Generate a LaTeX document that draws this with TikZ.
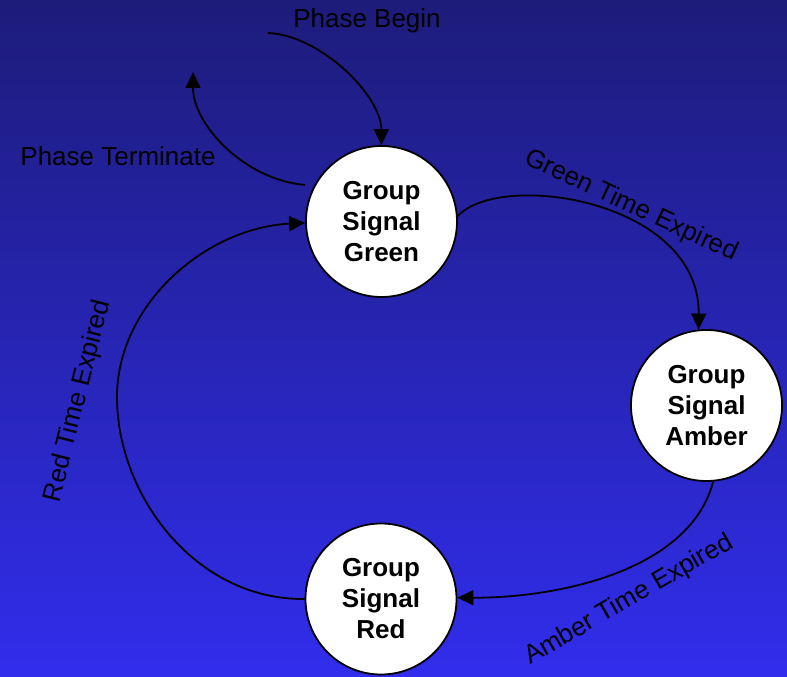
\documentclass[tikz,border=0pt]{standalone}
\usepackage{fontspec}
\setmainfont{Liberation Sans}
\usetikzlibrary{arrows.meta}
\definecolor{bgtop}{RGB}{29,28,122}
\definecolor{bgbot}{RGB}{49,45,236}
\begin{document}
\begin{tikzpicture}[x=1bp,y=-1bp,
  state/.style={circle,draw=black,fill=white,line width=1.8bp,minimum size=151bp,inner sep=0pt,
    align=center,font=\fontsize{26bp}{31bp}\selectfont\bfseries},
  lbl/.style={font=\fontsize{26bp}{31bp}\selectfont,text=black,inner sep=0pt},
  trans/.style={line width=1.8bp,-{Triangle[length=16bp,width=15bp]}}]
  % background
  \useasboundingbox (0,0) rectangle (787,677);
  \shade[top color=bgtop,bottom color=bgbot] (0,0) rectangle (787,677);

  % states
  \node[state] (green) at (381.5,221.5) {Group\\Signal\\Green};
  \node[state] (amber) at (706.5,405.5) {Group\\Signal\\Amber};
  \node[state] (red)   at (381,599)     {Group\\Signal\\Red};

  % free ends
  \coordinate (begin) at (268,33);
  \coordinate (term)  at (193,72);

  % transitions
  \draw[trans] (begin) .. controls (320,35) and (381,95) .. (green.north);
  \draw[trans,shorten <=9bp] (green.152) .. controls (245,180) and (193,125) .. (term);
  \draw[trans] (green.4) .. controls (500,170) and (700,200) .. (amber.96);
  \draw[trans] (amber.-85) .. controls (690,570) and (560,598) .. (red.1);
  \draw[trans] (red.west) .. controls (195,600) and (117,495) .. (117,397)
                          .. controls (117,305) and (205,228) .. (green.181);

  % labels
  \node[lbl] (lbegin) at (367,21) {Phase Begin};
  \node[lbl] (lterm) at (118,156) {Phase Terminate};
  \node[lbl,rotate=-25] (lgreen) at (631,206) {Green Time Expired};
  \node[lbl,rotate=30] (lamber) at (629,600) {Amber Time Expired};
  \node[lbl,rotate=76] (lred) at (78,401) {Red Time Expired};
\end{tikzpicture}
\end{document}
